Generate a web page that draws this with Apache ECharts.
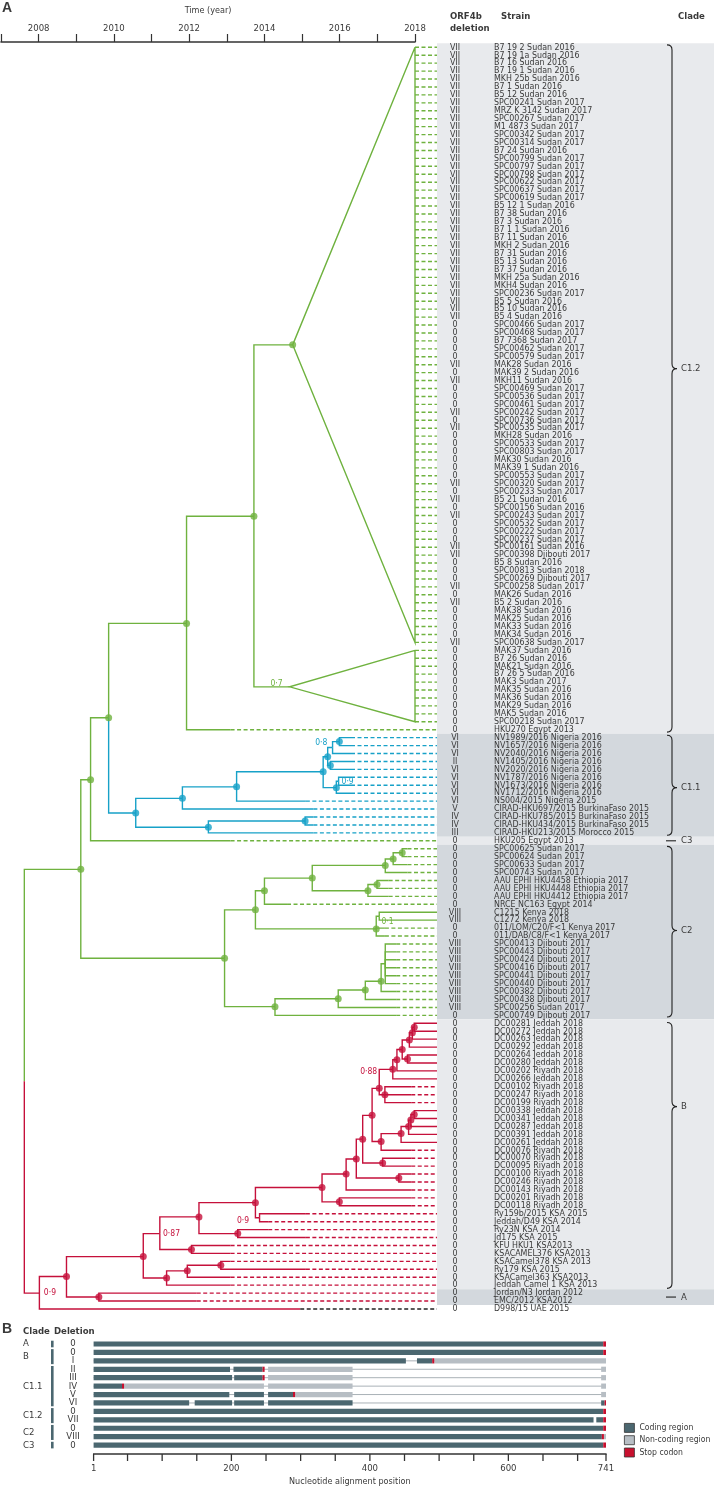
<!DOCTYPE html>
<html>
<head>
<meta charset="utf-8">
<script src="https://cdn.jsdelivr.net/npm/echarts@6.0.0/dist/echarts.min.js"></script>
<style>
  html, body { margin: 0; padding: 0; background: #fff; }
  #chart { width: 714px; height: 1487px; }
</style>
</head>
<body>
<div id="chart"></div>
<script>
// ---- panel A: strains (top to bottom), ORF4b deletion, sampling date ----
const strains = [
  'B7 19 2 Sudan 2016','B7 19 1a Sudan 2016','B7 16 Sudan 2016','B7 19 1 Sudan 2016','MKH 25b Sudan 2016','B7 1 Sudan 2016','B5 12 Sudan 2016','SPC00241 Sudan 2017','MRZ K 3142 Sudan 2017','SPC00267 Sudan 2017',
  'M1 4873 Sudan 2017','SPC00342 Sudan 2017','SPC00314 Sudan 2017','B7 24 Sudan 2016','SPC00799 Sudan 2017','SPC00797 Sudan 2017','SPC00798 Sudan 2017','SPC00622 Sudan 2017','SPC00637 Sudan 2017','SPC00619 Sudan 2017',
  'B5 12 1 Sudan 2016','B7 38 Sudan 2016','B7 3 Sudan 2016','B7 1 1 Sudan 2016','B7 11 Sudan 2016','MKH 2 Sudan 2016','B7 31 Sudan 2016','B5 13 Sudan 2016','B7 37 Sudan 2016','MKH 25a Sudan 2016',
  'MKH4 Sudan 2016','SPC00236 Sudan 2017','B5 5 Sudan 2016','B5 10 Sudan 2016','B5 4 Sudan 2016','SPC00466 Sudan 2017','SPC00468 Sudan 2017','B7 7368 Sudan 2017','SPC00462 Sudan 2017','SPC00579 Sudan 2017',
  'MAK28 Sudan 2016','MAK39 2 Sudan 2016','MKH11 Sudan 2016','SPC00469 Sudan 2017','SPC00536 Sudan 2017','SPC00461 Sudan 2017','SPC00242 Sudan 2017','SPC00736 Sudan 2017','SPC00535 Sudan 2017','MKH28 Sudan 2016',
  'SPC00533 Sudan 2017','SPC00803 Sudan 2017','MAK30 Sudan 2016','MAK39 1 Sudan 2016','SPC00553 Sudan 2017','SPC00320 Sudan 2017','SPC00233 Sudan 2017','B5 21 Sudan 2016','SPC00156 Sudan 2016','SPC00243 Sudan 2017',
  'SPC00532 Sudan 2017','SPC00222 Sudan 2017','SPC00237 Sudan 2017','SPC00161 Sudan 2016','SPC00398 Djibouti 2017','B5 8 Sudan 2016','SPC00813 Sudan 2018','SPC00269 Djibouti 2017','SPC00258 Sudan 2017','MAK26 Sudan 2016',
  'B5 2 Sudan 2016','MAK38 Sudan 2016','MAK25 Sudan 2016','MAK33 Sudan 2016','MAK34 Sudan 2016','SPC00638 Sudan 2017','MAK37 Sudan 2016','B7 26 Sudan 2016','MAK21 Sudan 2016','B7 26 5 Sudan 2016',
  'MAK3 Sudan 2017','MAK35 Sudan 2016','MAK36 Sudan 2016','MAK29 Sudan 2016','MAK5 Sudan 2016','SPC00218 Sudan 2017','HKU270 Egypt 2013','NV1989/2016 Nigeria 2016','NV1657/2016 Nigeria 2016','NV2040/2016 Nigeria 2016',
  'NV1405/2016 Nigeria 2016','NV2020/2016 Nigeria 2016','NV1787/2016 Nigeria 2016','NV1673/2016 Nigeria 2016','NV1712/2016 Nigeria 2016','NS004/2015 Nigeria 2015','CIRAD-HKU697/2015 BurkinaFaso 2015','CIRAD-HKU785/2015 BurkinaFaso 2015','CIRAD-HKU434/2015 BurkinaFaso 2015','CIRAD-HKU213/2015 Morocco 2015',
  'HKU205 Egypt 2013','SPC00625 Sudan 2017','SPC00624 Sudan 2017','SPC00633 Sudan 2017','SPC00743 Sudan 2017','AAU EPHI HKU4458 Ethiopia 2017','AAU EPHI HKU4448 Ethiopia 2017','AAU EPHI HKU4412 Ethiopia 2017','NRCE NC163 Egypt 2014','C1215 Kenya 2018',
  'C1272 Kenya 2018','011/LOM/C20/F<1 Kenya 2017','011/DAB/C8/F<1 Kenya 2017','SPC00413 Djibouti 2017','SPC00443 Djibouti 2017','SPC00424 Djibouti 2017','SPC00416 Djibouti 2017','SPC00441 Djibouti 2017','SPC00440 Djibouti 2017','SPC00382 Djibouti 2017',
  'SPC00438 Djibouti 2017','SPC00256 Sudan 2017','SPC00749 Djibouti 2017','DC00281 Jeddah 2018','DC00272 Jeddah 2018','DC00263 Jeddah 2018','DC00292 Jeddah 2018','DC00264 Jeddah 2018','DC00280 Jeddah 2018','DC00202 Riyadh 2018',
  'DC00266 Jeddah 2018','DC00102 Riyadh 2018','DC00247 Riyadh 2018','DC00199 Riyadh 2018','DC00338 Jeddah 2018','DC00341 Jeddah 2018','DC00287 Jeddah 2018','DC00391 Jeddah 2018','DC00261 Jeddah 2018','DC00076 Riyadh 2018',
  'DC00070 Riyadh 2018','DC00095 Riyadh 2018','DC00100 Riyadh 2018','DC00246 Riyadh 2018','DC00143 Riyadh 2018','DC00201 Riyadh 2018','DC00118 Riyadh 2018','Ry159b/2015 KSA 2015','Jeddah/D49 KSA 2014','Ry23N KSA 2014',
  'Jd175 KSA 2015','KFU HKU1 KSA2013','KSACAMEL376 KSA2013','KSACamel378 KSA 2013','Ry179 KSA 2015','KSACamel363 KSA2013','Jeddah Camel 1 KSA 2013','Jordan/N3 Jordan 2012','EMC/2012 KSA2012','D998/15 UAE 2015'
];
const deletions = (
  'VII VII VII VII VII VII VII VII VII VII VII VII VII VII VII VII VII VII VII VII ' +
  'VII VII VII VII VII VII VII VII VII VII VII VII VII VII VII 0 0 0 0 0 ' +
  'VII 0 VII 0 0 0 VII 0 VII 0 0 0 0 0 0 VII 0 VII 0 VII ' +
  '0 0 0 VII VII 0 0 0 VII 0 VII 0 0 0 0 VII 0 0 0 0 ' +
  '0 0 0 0 0 0 0 VI VI VI II VI VI VI VI VI V IV IV III ' +
  '0 0 0 0 0 0 0 0 0 VIII VIII 0 0 VIII VIII VIII VIII VIII VIII VIII ' +
  'VIII VIII 0 0 0 0 0 0 0 0 0 0 0 0 0 0 0 0 0 0 ' +
  '0 0 0 0 0 0 0 0 0 0 0 0 0 0 0 0 0 0 0 0').split(' ');
const tipDates = [
  2018,2018,2018,2018,2018,2018,2018,2018,2018,2018, 2018,2018,2018,2018,2018,2018,2018,2018,2018,2018,
  2018,2018,2018,2018,2018,2018,2018,2018,2018,2018, 2018,2018,2018,2018,2018,2018,2018,2018,2018,2018,
  2018,2018,2018,2018,2018,2018,2018,2018,2018,2018, 2018,2018,2018,2018,2018,2018,2018,2018,2018,2018,
  2018,2018,2018,2018,2018,2018,2018,2018,2018,2018, 2018,2018,2018,2018,2018,2018,2018,2018,2018,2018,
  2018,2018,2018,2018,2018,2018,2013.1,2016.3,2016.3,2016.3, 2016.3,2016.3,2016.3,2016.3,2016.3,2015.1,2015.3,2015.3,2015.3,2015.3,
  2013.1,2017.8,2017.8,2017.8,2017.8,2017.3,2017.3,2017.3,2014.6,2018.6, 2018.6,2017.2,2017.2,2017.5,2017.5,2017.5,2017.5,2017.5,2017.5,2017.5,
  2017.5,2017.5,2017.5,2018.6,2018.6,2018.6,2018.6,2018.6,2018.6,2018.6, 2018.6,2017.9,2017.9,2017.9,2018.6,2018.6,2018.6,2018.6,2018.6,2017.9,
  2017.9,2017.9,2017.9,2017.9,2017.9,2017.9,2017.9,2015.1,2014.1,2014.1, 2015.1,2013.1,2013.1,2013.1,2015.1,2013.1,2013.1,2012.2,2012.2,2014.95
];
// parent node of each leaf (-1: leaf sits in a collapsed triangle)
const leafParent = [
  -1,-1,-1,-1,-1,-1,-1,-1,-1,-1, -1,-1,-1,-1,-1,-1,-1,-1,-1,-1,
  -1,-1,-1,-1,-1,-1,-1,-1,-1,-1, -1,-1,-1,-1,-1,-1,-1,-1,-1,-1,
  -1,-1,-1,-1,-1,-1,-1,-1,-1,-1, -1,-1,-1,-1,-1,-1,-1,-1,-1,-1,
  -1,-1,-1,-1,-1,-1,-1,-1,-1,-1, -1,-1,-1,-1,-1,-1,-1,-1,-1,-1,
  -1,-1,-1,-1,-1,-1,4,14,14,13, 15,15,17,17,16,10,9,19,19,18,
  2,26,26,25,24,28,28,27,22,30, 30,29,29,35,35,35,35,35,35,34,
  33,32,31,66,66,65,63,64,64,61, 60,67,67,67,59,59,58,57,56,55,
  52,52,51,51,48,47,47,45,45,43, 43,41,41,70,70,69,68,38,38,36
];

// ---- tree nodes (time in years, row position) ----
const nodeTime = [
  2007.62,2009.12,2009.38,2009.86,2011.93,2013.72,2014.75,2014.67,2010.58,2011.82,
  2013.26,2015.56,2015.68,2015.81,2015.99,2015.75,2015.91,2015.97,2012.51,2015.08,
  2012.94,2013.76,2014.00,2015.27,2017.21,2017.42,2017.66,2016.75,2016.99,2016.97,
  2017.05,2014.28,2015.96,2016.68,2017.10,2017.21,2008.02,2008.74,2009.60,2010.78,
  2011.22,2012.06,2012.26,2013.29,2013.76,2013.87,2015.53,2015.99,2016.17,2016.44,
  2016.61,2017.57,2017.14,2016.86,2017.05,2017.10,2017.63,2017.83,2017.89,2017.98,
  2017.41,2017.52,2017.66,2017.85,2017.80,2017.93,2017.98,2017.20,2011.40,2011.95,
  2012.84
];
const nodeRow = [
  130.3,103.6,92.3,84.5,72.6,59.1,37.5,80.6,96.5,94.65,
  93.2,91.3,89.4,88.25,87.5,90.5,93.3,92.5,98.3,97.5,
  114.8,108.7,106.3,104.7,103.1,102.3,101.5,106.3,105.5,111.1,
  109.5,120.9,119.9,118.8,117.7,115.5,157.0,154.9,157.5,152.4,
  149.5,151.5,147.4,149.5,145.6,147.5,143.7,145.5,142.0,140.1,
  137.6,142.5,140.6,134.6,131.2,137.9,136.9,136.0,135.2,134.5,
  128.8,127.6,126.3,125.1,127.5,124.2,123.5,132.0,155.1,154.2,
  153.5
];
const nodeParent = [
  -1,0,1,2,3,4,5,5,3,8,
  9,10,11,12,13,12,11,16,8,18,
  1,20,21,22,23,24,25,23,27,21,
  29,20,31,32,33,34,0,36,37,37,
  39,40,40,42,42,44,44,46,46,48,
  49,49,50,50,53,53,55,56,57,58,
  54,60,61,62,62,63,65,54,39,68,
  69
];
const nodeDot = [
  0,1,1,1,1,1,1,0,1,1, 1,1,1,0,1,1,1,0,1,1,
  1,1,1,1,1,1,1,1,1,1, 0,1,1,1,1,0,0,1,1,1,
  0,1,1,1,1,0,1,1,1,1, 1,1,1,1,1,1,1,1,1,1,
  1,1,1,1,1,1,1,1,1,1, 1
];
const nodeClade = (
  'g g g g g g g g b b b b b b b b b b b b ' +
  'g g g g g g g g g g g g g g g g r r r r ' +
  'r r r r r r r r r r r r r r r r r r r r ' +
  'r r r r r r r r r r r').split(' ');

// collapsed triangles: node, first and last leaf row
const triNode = [6, 7];
const triFirst = [0, 76];
const triLast = [75, 85];
const triEnd = 2018;

// posterior support labels
const supportText = ['0·7', '0·8', '0·9', '0·1', '0·88', '0·9', '0·87', '0·9'];
const supportTime = [2014.32, 2015.51, 2016.21, 2017.27, 2016.77, 2013.43, 2011.53, 2008.30];
const supportRow = [80.2, 87.6, 92.55, 110.2, 129.1, 147.9, 149.5, 157.0];
const supportClade = ['g', 'b', 'b', 'g', 'r', 'r', 'r', 'r'];

// clade bands and braces on the right
const bandFirst = [0, 87, 100, 101, 123, 157];
const bandLast = [86, 99, 100, 122, 156, 158];
const bandShade = ['#e8eaed', '#d3d8dd', '#e8eaed', '#d3d8dd', '#e8eaed', '#d3d8dd'];
const cladeNames = ['C1.2', 'C1.1', 'C3', 'C2', 'B', 'A'];
const cladeFirst = [-0.3, 86.7, 100, 100.7, 122.9, 157.5];
const cladeLast = [86.3, 99.3, 100, 122.2, 156.4, 157.5];
const cladeTip = [40.5, 93.3, 100, 111.3, 133.5, 157.5];

// ---- panel B ----
const bClade = ['A', 'B', 'C1.1', 'C1.2', 'C2', 'C3'];
const bCladeFirst = [0, 1, 3, 8, 10, 12];
const bCladeLast = [0, 2, 7, 9, 11, 12];
const bDeletion = ['0', '0', 'I', 'II', 'III', 'IV', 'V', 'VI', '0', 'VII', '0', 'VIII', '0'];
// [row, start, end, type] type 0 coding, 1 non-coding, 2 stop codon
const bSegments = [
  [0, 1, 737, 0], [0, 737, 741, 2],
  [1, 1, 737, 0], [1, 737, 741, 2],
  [2, 1, 452, 0], [2, 468, 490, 0], [2, 490, 493, 2], [2, 493, 741, 1],
  [3, 1, 198, 0], [3, 203, 245, 0], [3, 245, 248, 2], [3, 253, 375, 1], [3, 734, 741, 1],
  [4, 1, 201, 0], [4, 204, 245, 0], [4, 245, 248, 2], [4, 253, 375, 1], [4, 734, 741, 1],
  [5, 1, 42, 0], [5, 42, 45, 2], [5, 45, 247, 1], [5, 253, 375, 1], [5, 734, 741, 1],
  [6, 1, 197, 0], [6, 204, 247, 0], [6, 253, 289, 0], [6, 289, 292, 2], [6, 292, 375, 1], [6, 734, 741, 1],
  [7, 1, 139, 0], [7, 147, 201, 0], [7, 204, 247, 0], [7, 253, 375, 0], [7, 734, 739, 0], [7, 739, 741, 2],
  [8, 1, 737, 0], [8, 737, 741, 2],
  [9, 1, 723, 0], [9, 727, 737, 0], [9, 737, 741, 2],
  [10, 1, 737, 0], [10, 737, 741, 2],
  [11, 1, 735, 0], [11, 735, 738, 2], [11, 738, 741, 1],
  [12, 1, 737, 0], [12, 737, 741, 2]
];
const bGapRows = [2, 3, 4, 5, 6, 7];
const bTicks = [1, 50, 100, 150, 200, 250, 300, 350, 400, 450, 500, 550, 600, 650, 700, 741];
const bTickLabels = [1, 200, 400, 600, 741];
const segmentTypes = ['Coding region', 'Non-coding region', 'Stop codon'];

// ---- styling ----
const FONT = "'Liberation Sans Narrow', 'DejaVu Sans Condensed', 'Liberation Sans', sans-serif";
const TEXT = '#3a3a3a';
const cladeColor = { g: '#6fb23f', b: '#17a1c8', r: '#c5103b', k: '#222222' };
const segColor = ['#4b6770', '#b7bec4', '#c8102e'];
const TREE_TOP = 43.33, TREE_H = 1269.6;
const TREE_MAX = 2007 + 436 * 11 / 414;
const B_TOP = 1339.8, B_H = 109.5;
const B_AXIS_Y = 1454;

const chart = echarts.init(document.getElementById('chart'));

// tree branches
const solid = [];
const dashed = [];
nodeParent.forEach((p, n) => {
  if (p < 0) return;
  solid.push({
    coords: [[nodeTime[p], nodeRow[p]], [nodeTime[p], nodeRow[n]], [nodeTime[n], nodeRow[n]]],
    lineStyle: { color: cladeColor[nodeClade[n]] }
  });
});
triNode.forEach((n, k) => {
  solid.push({
    coords: [[triEnd, triFirst[k]], [nodeTime[n], nodeRow[n]], [triEnd, triLast[k]], [triEnd, triFirst[k]]],
    lineStyle: { color: cladeColor[nodeClade[n]] }
  });
});
strains.forEach((s, i) => {
  const p = leafParent[i];
  const tip = Math.min(tipDates[i], TREE_MAX);
  let c = p < 0 ? cladeColor.g : cladeColor[nodeClade[p]];
  if (p >= 0) {
    solid.push({ coords: [[nodeTime[p], nodeRow[p]], [nodeTime[p], i], [tip, i]], lineStyle: { color: c } });
  }
  if (s === 'D998/15 UAE 2015') c = cladeColor.k;
  if (tip < TREE_MAX) dashed.push({ coords: [[tip, i], [TREE_MAX, i]], lineStyle: { color: c } });
});
const dots = [];
nodeTime.forEach((t, n) => {
  if (nodeDot[n]) dots.push({ value: [t, nodeRow[n]], itemStyle: { color: cladeColor[nodeClade[n]] } });
});

function txt(x, y, text, font, align) {
  return { type: 'text', x: x, y: y, style: { text: text, font: font, fill: TEXT, align: align || 'left', verticalAlign: 'middle' } };
}

const option = {
  animation: false,
  backgroundColor: '#ffffff',
  textStyle: { fontFamily: FONT },
  grid: [
    { left: 1, top: 42, width: 414, height: 1, outerBoundsMode: 'none' },
    { left: 1, top: TREE_TOP, width: 436, height: TREE_H, outerBoundsMode: 'none' },
    { left: 437, top: TREE_TOP, width: 277, height: TREE_H, outerBoundsMode: 'none' },
    { left: 93.6, top: B_TOP, width: 512.4, height: B_H, outerBoundsMode: 'none' }
  ],
  xAxis: [
    {
      gridIndex: 0, type: 'value', position: 'top', min: 2007, max: 2018, interval: 1,
      name: 'Time (year)', nameLocation: 'middle', nameGap: 27,
      nameTextStyle: { fontSize: 9, color: TEXT, fontFamily: FONT },
      axisLine: { onZero: false, lineStyle: { color: '#333', width: 1.6 } },
      axisTick: { length: 8, lineStyle: { color: '#333', width: 1.2 } },
      axisLabel: { fontSize: 9.5, color: TEXT, margin: 8, fontFamily: FONT, formatter: v => (v % 2 === 0 ? String(v) : '') },
      splitLine: { show: false }
    },
    { gridIndex: 1, type: 'value', min: 2007, max: TREE_MAX, show: false },
    { gridIndex: 2, type: 'value', min: 0, max: 1, show: false },
    {
      gridIndex: 3, type: 'value', min: 1, max: 741, position: 'bottom', offset: 5,
      name: 'Nucleotide alignment position', nameLocation: 'middle', nameGap: 23,
      nameTextStyle: { fontSize: 9, color: TEXT, fontFamily: FONT },
      axisLine: { show: false, onZero: false },
      axisTick: { show: false },
      axisLabel: { customValues: bTickLabels, fontSize: 9.5, color: TEXT, margin: 9, fontFamily: FONT },
      splitLine: { show: false }
    }
  ],
  yAxis: [
    { gridIndex: 0, type: 'value', show: false },
    { gridIndex: 1, type: 'value', min: -0.5, max: 159.5, inverse: true, show: false },
    { gridIndex: 2, type: 'value', min: -0.5, max: 159.5, inverse: true, show: false },
    { gridIndex: 3, type: 'value', min: -0.5, max: 12.5, inverse: true, show: false },
    {
      gridIndex: 3, type: 'category', data: bDeletion, inverse: true, position: 'left',
      axisLine: { show: false }, axisTick: { show: false }, splitLine: { show: false },
      axisLabel: { interval: 0, align: 'center', margin: 20.6, fontSize: 9.5, color: TEXT, fontFamily: FONT }
    }
  ],
  legend: {
    data: segmentTypes, orient: 'vertical', left: 624, top: 1423, padding: 0,
    itemWidth: 10, itemHeight: 9, itemGap: 2.5, icon: 'rect', selectedMode: false,
    itemStyle: { borderColor: '#333', borderWidth: 0.8 },
    textStyle: { fontSize: 8.6, color: TEXT, fontFamily: FONT }
  },
  graphic: [
    txt(2, 8, 'A', 'bold 14px Liberation Sans'),
    txt(450, 17, 'ORF4b', '600 9.5px ' + FONT),
    txt(450, 29, 'deletion', '600 9.5px ' + FONT),
    txt(501, 17, 'Strain', '600 9.5px ' + FONT),
    txt(678, 17, 'Clade', '600 9.5px ' + FONT),
    txt(2, 1329, 'B', 'bold 14px Liberation Sans'),
    txt(23, 1332, 'Clade', '600 9.5px ' + FONT),
    txt(54, 1332, 'Deletion', '600 9.5px ' + FONT)
  ],
  series: [
    {
      type: 'custom', name: 'bands', xAxisIndex: 2, yAxisIndex: 2, z: 0, silent: true,
      data: bandFirst.map((f, k) => [0, f, bandLast[k]]),
      renderItem: (params, api) => {
        const a = api.coord([0, api.value(1) - 0.5]);
        const b = api.coord([0, api.value(2) + 0.5]);
        return { type: 'rect', shape: { x: 437, y: a[1], width: 277, height: b[1] - a[1] }, style: { fill: bandShade[params.dataIndex] } };
      }
    },
    {
      type: 'custom', name: 'rows', xAxisIndex: 2, yAxisIndex: 2, z: 3, silent: true,
      data: strains.map((s, i) => [0, i]),
      renderItem: (params, api) => {
        const i = params.dataIndex;
        const y = api.coord([0, api.value(1)])[1];
        return {
          type: 'group', children: [
            txt(455, y, deletions[i], '8.8px ' + FONT, 'center'),
            txt(494, y, strains[i], '8.8px ' + FONT)
          ]
        };
      }
    },
    {
      type: 'custom', name: 'braces', xAxisIndex: 2, yAxisIndex: 2, z: 3, silent: true,
      data: cladeNames.map((c, k) => [0, cladeFirst[k], cladeLast[k], cladeTip[k]]),
      renderItem: (params, api) => {
        const k = params.dataIndex;
        const y0 = api.coord([0, api.value(1)])[1];
        const y1 = api.coord([0, api.value(2)])[1];
        const yt = api.coord([0, api.value(3)])[1];
        const label = txt(681, yt, cladeNames[k], '9.5px ' + FONT);
        const stroke = { stroke: '#222', lineWidth: 1.1, fill: null };
        if (y1 - y0 < 1) {
          return { type: 'group', children: [
            { type: 'line', shape: { x1: 666, y1: yt, x2: 676, y2: yt }, style: stroke }, label
          ] };
        }
        const xl = 667, xm = 672, xr = 677, r = 5;
        const d = `M${xl},${y0} Q${xm},${y0} ${xm},${y0 + r} L${xm},${yt - r} Q${xm},${yt} ${xr},${yt} ` +
                  `Q${xm},${yt} ${xm},${yt + r} L${xm},${y1 - r} Q${xm},${y1} ${xl},${y1}`;
        return { type: 'group', children: [{ type: 'path', shape: { pathData: d }, style: stroke }, label] };
      }
    },
    {
      type: 'lines', name: 'branches', coordinateSystem: 'cartesian2d', xAxisIndex: 1, yAxisIndex: 1,
      polyline: true, silent: true, z: 2,
      lineStyle: { width: 1.4, opacity: 1, join: 'miter' },
      data: solid
    },
    {
      type: 'lines', name: 'tips', coordinateSystem: 'cartesian2d', xAxisIndex: 1, yAxisIndex: 1,
      polyline: true, silent: true, z: 2,
      lineStyle: { width: 1.4, opacity: 1, type: [4, 2.5] },
      data: dashed
    },
    {
      type: 'scatter', name: 'nodes', xAxisIndex: 1, yAxisIndex: 1, symbolSize: 7, z: 4, silent: true,
      data: dots
    },
    {
      type: 'custom', name: 'support', xAxisIndex: 1, yAxisIndex: 1, z: 5, silent: true,
      data: supportText.map((t, k) => [supportTime[k], supportRow[k]]),
      renderItem: (params, api) => {
        const k = params.dataIndex;
        const p = api.coord([api.value(0), api.value(1)]);
        return { type: 'text', x: p[0], y: p[1], style: { text: supportText[k], font: '8.5px ' + FONT, fill: cladeColor[supportClade[k]], align: 'center', verticalAlign: 'middle' } };
      }
    },
    {
      type: 'custom', name: 'gapline', xAxisIndex: 3, yAxisIndex: 3, z: 1, silent: true,
      data: bGapRows.map(r => [1, r]),
      renderItem: (params, api) => {
        const a = api.coord([1, api.value(1)]);
        const b = api.coord([741, api.value(1)]);
        return { type: 'line', shape: { x1: a[0], y1: a[1], x2: b[0], y2: b[1] }, style: { stroke: '#aab2b7', lineWidth: 1 } };
      }
    },
    {
      // axis line and ticks of panel B, drawn from the tick values
      type: 'custom', name: 'baxis', xAxisIndex: 3, yAxisIndex: 3, z: 2, silent: true, clip: false,
      data: bTicks.map(v => [v, 0]),
      renderItem: (params, api) => {
        const x = api.coord([api.value(0), 0])[0];
        const children = [{ type: 'line', shape: { x1: x, y1: B_AXIS_Y, x2: x, y2: B_AXIS_Y + 7 }, style: { stroke: '#333', lineWidth: 1.3 } }];
        if (params.dataIndex === 0) {
          const x2 = api.coord([bTicks[bTicks.length - 1], 0])[0];
          children.push({ type: 'line', shape: { x1: x - 0.6, y1: B_AXIS_Y, x2: x2 + 0.6, y2: B_AXIS_Y }, style: { stroke: '#333', lineWidth: 1.6 } });
        }
        return { type: 'group', children: children };
      }
    }
  ].concat(segmentTypes.map((name, t) => ({
    type: 'custom', name: name, xAxisIndex: 3, yAxisIndex: 3, z: 2 + (t === 2 ? 1 : 0), silent: true,
    itemStyle: { color: segColor[t] },
    data: bSegments.filter(s => s[3] === t).map(s => [s[1], s[0], s[2]]),
    renderItem: (params, api) => {
      const a = api.coord([api.value(0), api.value(1)]);
      const b = api.coord([api.value(2), api.value(1)]);
      return { type: 'rect', shape: { x: a[0], y: a[1] - 2.6, width: b[0] - a[0], height: 5.2 }, style: { fill: segColor[t] } };
    }
  }))).concat([{
    type: 'custom', name: 'bclades', xAxisIndex: 3, yAxisIndex: 3, z: 2, silent: true,
    data: bClade.map((c, k) => [1, bCladeFirst[k], bCladeLast[k]]),
    renderItem: (params, api) => {
      const k = params.dataIndex;
      const a = api.coord([1, api.value(1)]);
      const b = api.coord([1, api.value(2)]);
      return { type: 'group', children: [
        { type: 'rect', shape: { x: 51, y: a[1] - 3.3, width: 2.6, height: b[1] - a[1] + 6.6 }, style: { fill: segColor[0] } },
        txt(23, (a[1] + b[1]) / 2, bClade[k], '9.5px ' + FONT)
      ] };
    }
  }])
};
chart.setOption(option);
</script>
</body>
</html>
